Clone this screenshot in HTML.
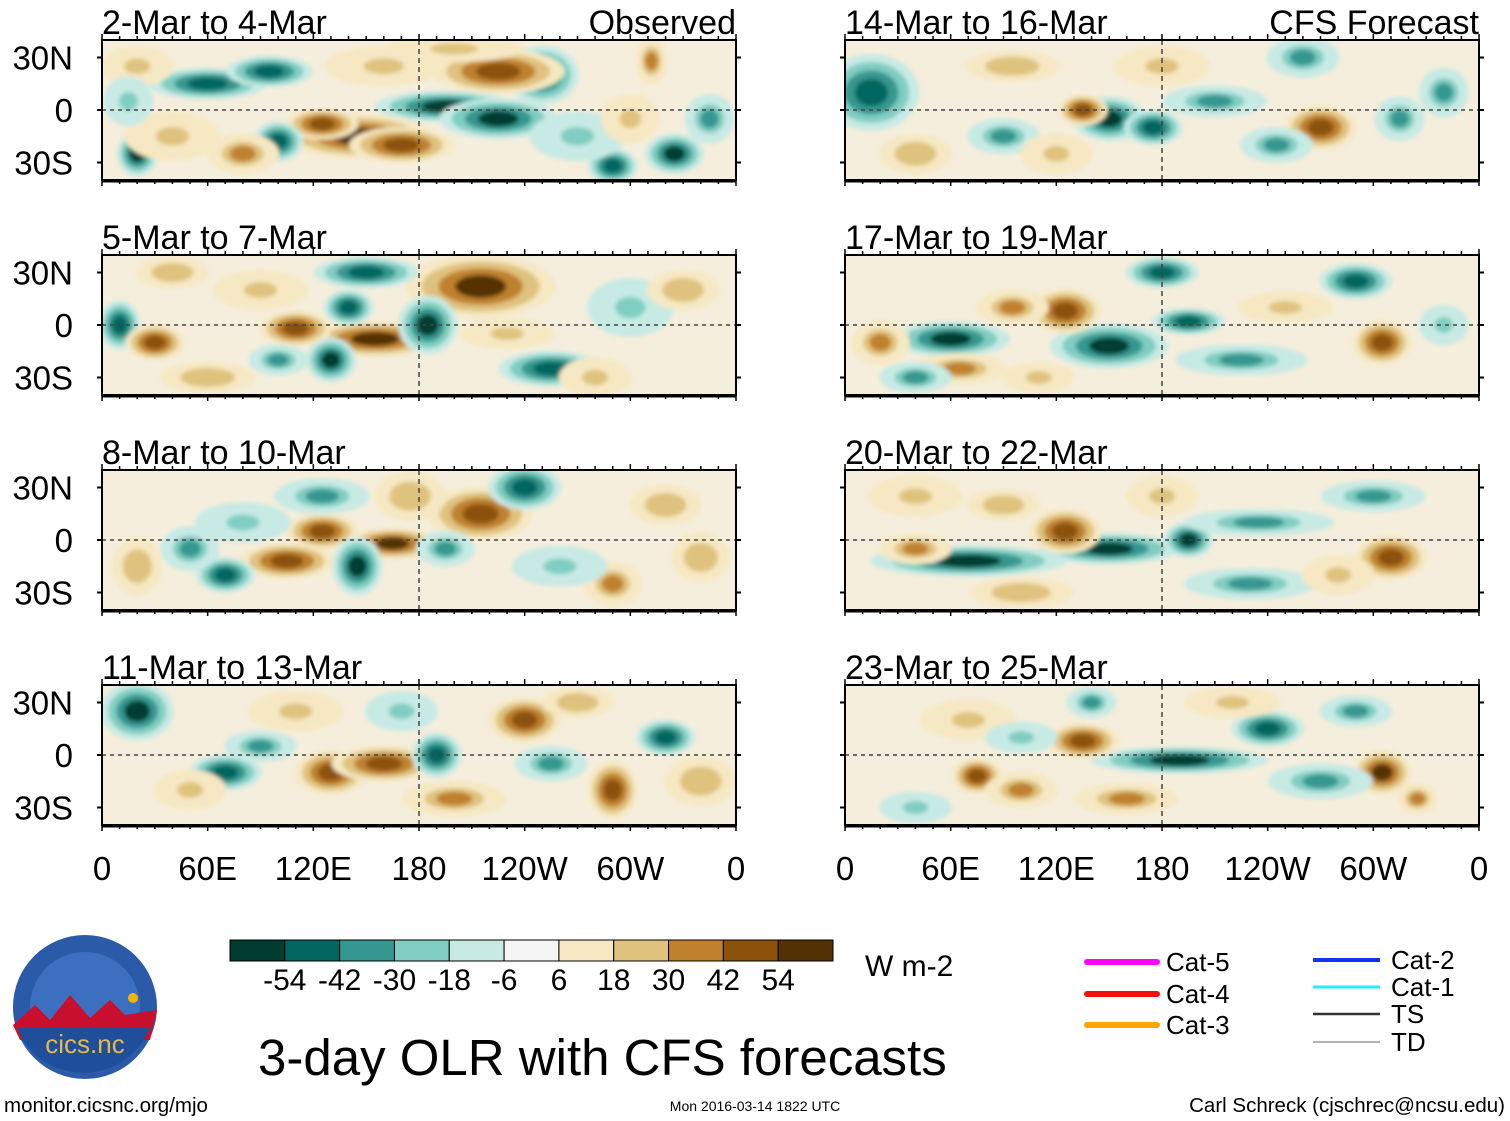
<!DOCTYPE html>
<html><head><meta charset="utf-8">
<style>
body{margin:0;background:#fff;font-family:"Liberation Sans",Arial,sans-serif;}
svg{display:block}
</style></head>
<body>
<svg id="fig" width="1510" height="1121" xmlns="http://www.w3.org/2000/svg">
<defs><filter id="bl" x="-20%" y="-20%" width="140%" height="140%"><feGaussianBlur stdDeviation="2"/></filter></defs>
<g id="panels"></g>
<g id="bottom"></g>
</svg>
<script>
const levels=[-54,-42,-30,-18,-6,6,18,30,42,54];
const colors=["#003c30","#01665e","#35978f","#80cdc1","#c7eae5","#f5f5f5","#f6e8c3","#dfc27d","#bf812d","#8c510a","#543005"];
const panelTitles=["2-Mar to 4-Mar","5-Mar to 7-Mar","8-Mar to 10-Mar","11-Mar to 13-Mar","14-Mar to 16-Mar","17-Mar to 19-Mar","20-Mar to 22-Mar","23-Mar to 25-Mar"];
const lonTicks=["0","60E","120E","180","120W","60W","0"];
const latTicks=["30N","0","30S"];
// anomaly blobs per panel: [lon, lat, lonRadius, latRadius, value W m-2]
const p0=[[195,2,30,6,-58],[225,-5,25,8,-55],[145,-15,32,9,60],[125,-8,15,6,45],[250,20,15,12,-58],[225,22,28,9,45],[60,15,25,6,-45],[95,22,18,6,-50],[20,-25,8,9,-58],[325,-25,12,8,-58],[290,-32,10,7,-45],[170,-20,22,7,45],[100,-18,10,8,-45],[312,28,6,10,40],[40,-15,20,10,25],[270,-15,20,10,-25],[80,-25,15,8,35],[20,25,15,8,25],[160,25,25,8,20],[200,35,30,5,25],[300,-5,12,10,20],[345,-5,10,10,-30],[15,5,10,10,-25]];
const p1=[[215,22,32,13,55],[155,-8,30,7,55],[110,-2,15,7,45],[185,0,12,12,-55],[140,10,10,7,-45],[130,-20,10,9,-55],[255,-25,22,7,-45],[10,0,8,10,-45],[30,-10,12,7,45],[150,30,22,6,-45],[100,-20,12,6,-35],[300,10,18,12,-25],[60,-30,20,6,30],[90,20,20,8,20],[330,20,15,8,30],[280,-30,15,8,25],[40,30,15,6,30],[230,-5,20,6,20]];
const p2=[[215,15,22,11,50],[165,-2,20,6,55],[125,5,15,7,45],[105,-12,20,7,45],[145,-15,10,12,-55],[70,-20,12,7,-45],[240,30,15,9,-45],[195,-5,12,7,-40],[50,-5,12,9,-35],[290,-25,12,9,35],[125,25,20,7,-35],[20,-15,10,12,30],[320,20,15,8,30],[80,10,20,8,-20],[175,25,15,10,30],[260,-15,20,8,-25],[340,-10,12,10,30]];
const p3=[[20,25,15,12,-55],[130,-10,15,9,45],[160,-5,22,7,45],[70,-10,15,7,-45],[190,0,10,9,-45],[240,20,15,9,45],[290,-20,10,12,45],[320,10,12,7,-45],[90,5,15,6,-35],[200,-25,22,7,35],[255,-5,15,7,-35],[50,-20,15,8,25],[110,25,20,8,25],[340,-15,15,10,30],[270,30,15,6,30],[170,25,15,8,-25]];
const p4=[[15,10,20,16,-50],[150,-5,15,9,-58],[175,-10,12,7,-50],[135,0,10,6,45],[270,-10,15,9,45],[210,5,22,6,-40],[90,-15,15,7,-40],[315,-5,10,9,-40],[245,-20,15,7,-35],[95,25,20,6,30],[260,30,15,8,-35],[40,-25,15,8,30],[120,-25,15,8,25],[340,10,10,10,-30],[180,25,20,8,20]];
const p5=[[60,-8,25,7,-58],[150,-12,25,9,-58],[195,2,15,5,-50],[225,-20,28,6,-35],[65,-25,20,6,35],[125,8,15,9,45],[305,-10,12,9,45],[180,30,15,6,-45],[290,25,15,7,-45],[20,-10,12,9,35],[95,10,15,7,35],[40,-30,15,6,-30],[250,10,20,6,25],[340,0,10,8,-25],[110,-30,15,6,25]];
const p6=[[70,-12,42,6,-58],[150,-5,30,6,-55],[195,0,10,7,-58],[235,10,32,5,-40],[125,5,15,9,45],[310,-10,15,9,45],[40,-5,15,6,35],[300,25,22,6,-40],[230,-25,28,6,-30],[100,-30,22,6,30],[40,25,20,8,25],[90,20,15,6,30],[280,-20,15,8,25],[180,25,15,8,20]];
const p7=[[190,-3,38,5,-58],[75,-12,10,7,50],[135,8,15,7,50],[305,-10,12,9,58],[240,15,15,7,-45],[290,25,15,6,-35],[270,-15,22,7,-35],[160,-25,22,6,35],[100,-20,15,7,35],[325,-25,8,6,40],[140,30,10,6,-35],[70,20,20,8,25],[40,-30,15,6,-25],[220,30,20,6,20],[100,10,15,6,-20]];
const blobs=[p0,p1,p2,p3,p4,p5,p6,p7];

const NS="http://www.w3.org/2000/svg";
function mk(tag,attrs,parent){const e=document.createElementNS(NS,tag);for(const k in attrs)e.setAttribute(k,attrs[k]);parent.appendChild(e);return e;}
function colorFor(v){let i=0;while(i<levels.length&&v>levels[i])i++;return colors[i];}
const W=634,H=140;
const lefts=[102,845],tops=[40,255,470,685];
const G=document.getElementById('panels');
for(let p=0;p<8;p++){
  const col=p<4?0:1,row=p%4;
  const x0=lefts[col],y0=tops[row];
  const xs=lon=>x0+lon/360*W, ys=lat=>y0+(40-lat)/80*H;
  const g=mk('g',{},G);
  
  
  const cp=mk('clipPath',{id:'c'+p},g);
  mk('rect',{x:x0,y:y0,width:W,height:H},cp);
  const field=mk('g',{'clip-path':'url(#c'+p+')'},g);
  mk('rect',{x:x0,y:y0,width:W,height:H,fill:'#f5eedc'},field);
  const inner=mk('g',{filter:'url(#bl)'},field);
  blobs[p].forEach(b=>{
    const [lon,lat,rl,rt,v]=b;
    const steps=[[1.0,0.12],[0.78,0.42],[0.55,0.68],[0.32,1.0]];
    steps.forEach(([s,f])=>{
      const val=Math.abs(v*f)<10?Math.sign(v)*10:v*f;
      const e=mk('ellipse',{cx:xs(lon),cy:ys(lat),rx:rl/360*W*s*1.3+2,ry:rt/80*H*s*1.3+2,fill:colorFor(val)},inner);
      
      
    });
  });
  mk('line',{x1:x0,y1:ys(0),x2:x0+W,y2:ys(0),stroke:'#444','stroke-width':1.5,'stroke-dasharray':'4 4'},g);
  mk('line',{x1:xs(180),y1:y0,x2:xs(180),y2:y0+H,stroke:'#444','stroke-width':1.5,'stroke-dasharray':'5 4'},g);
  mk('rect',{x:x0,y:y0,width:W,height:H,fill:'none',stroke:'#000','stroke-width':2},g);
  mk('line',{x1:x0,y1:y0+H+1,x2:x0+W,y2:y0+H+1,stroke:'#000','stroke-width':3},g);
  for(let l=0;l<=360;l+=10){
    const big=l%60==0;
    mk('line',{x1:xs(l),y1:y0+H,x2:xs(l),y2:y0+H+(big?6:4),stroke:'#000','stroke-width':1.5},g);
    mk('line',{x1:xs(l),y1:y0,x2:xs(l),y2:y0-(big?6:4),stroke:'#000','stroke-width':1.5},g);
  }
  [30,0,-30].forEach(la=>{
    mk('line',{x1:x0-5,y1:ys(la),x2:x0,y2:ys(la),stroke:'#000','stroke-width':2},g);
    mk('line',{x1:x0+W,y1:ys(la),x2:x0+W+5,y2:ys(la),stroke:'#000','stroke-width':2},g);
  });
  const t=mk('text',{x:x0,y:y0-6,'font-size':34,fill:'#000'},g);t.textContent=panelTitles[p];
  
  if(row==0){const r=mk('text',{x:x0+W,y:y0-6,'font-size':34,'text-anchor':'end'},g);r.textContent=col==0?'Observed':'CFS Forecast';
    }
  if(col==0){latTicks.forEach((lt,i)=>{const tt=mk('text',{x:73,y:ys([30,0,-30][i])+12,'font-size':33,'text-anchor':'end'},g);tt.textContent=lt;
    });}
  if(row==3){lonTicks.forEach((lt,i)=>{const tt=mk('text',{x:xs(i*60),y:880,'font-size':33,'text-anchor':'middle'},g);tt.textContent=lt;
    });}
}
const B=document.getElementById('bottom');
const cbx=230,cbw=603,cby=940,cbh=21,bw=cbw/colors.length;
colors.forEach((c,i)=>{const r=mk('rect',{x:cbx+i*bw,y:cby,width:bw,height:cbh,fill:c,stroke:'#000','stroke-width':1},B);
  });
levels.forEach((l,i)=>{const t=mk('text',{x:cbx+(i+1)*bw,y:990,'font-size':30,'text-anchor':'middle'},B);t.textContent=l;
  });
</script>
<div style="position:absolute;left:0;top:0;width:1510px;height:1121px;pointer-events:none">
<svg width="1510" height="1121" xmlns="http://www.w3.org/2000/svg">
<text x="865" y="976" font-size="30">W m-2</text>
<g font-size="26">
<line x1="1087" y1="962" x2="1157" y2="962" stroke="#ff00ff" stroke-width="6" stroke-linecap="round"/><text x="1166" y="971">Cat-5</text>
<line x1="1087" y1="994" x2="1157" y2="994" stroke="#ee1111" stroke-width="6" stroke-linecap="round"/><text x="1166" y="1003">Cat-4</text>
<line x1="1087" y1="1025" x2="1157" y2="1025" stroke="#ffa500" stroke-width="6" stroke-linecap="round"/><text x="1166" y="1034">Cat-3</text>
<line x1="1313" y1="960" x2="1380" y2="960" stroke="#1133ee" stroke-width="4"/><text x="1391" y="969">Cat-2</text>
<line x1="1313" y1="987" x2="1380" y2="987" stroke="#22eeff" stroke-width="3"/><text x="1391" y="996">Cat-1</text>
<line x1="1313" y1="1014" x2="1380" y2="1014" stroke="#333" stroke-width="2.5"/><text x="1391" y="1023">TS</text>
<line x1="1313" y1="1042" x2="1380" y2="1042" stroke="#999" stroke-width="1.5"/><text x="1391" y="1051">TD</text>
</g>
<g>
<circle cx="85" cy="1007" r="72" fill="#2a5aa8"/>
<circle cx="85" cy="1007" r="55" fill="#3d6fc0"/>
<path d="M13,1025 L35,1005 L50,1020 L70,995 L90,1018 L110,1000 L125,1015 L157,1010 L150,1040 L20,1040Z" fill="#c8102e"/>
<path d="M18,1028 L150,1028 A72,72 0 0 1 20,1035Z" fill="#1f4f9a"/>
<circle cx="133" cy="998" r="5" fill="#f5b400"/>
<text x="85" y="1053" font-size="26" fill="#e8b84a" text-anchor="middle">cics.nc</text>
</g>
<text x="258" y="1075" font-size="51">3-day OLR with CFS forecasts</text>
<text x="4" y="1112" font-size="20.5">monitor.cicsnc.org/mjo</text>
<text x="755" y="1111" font-size="14" text-anchor="middle">Mon 2016-03-14 1822 UTC</text>
<text x="1505" y="1112" font-size="20.5" text-anchor="end">Carl Schreck (cjschrec@ncsu.edu)</text>
</svg></div>
</body></html>
